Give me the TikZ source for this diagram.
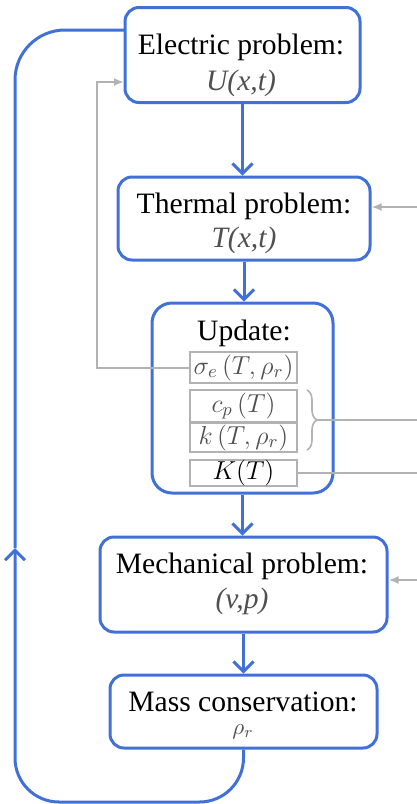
\documentclass[tikz,border=0pt]{standalone}
\usepackage{fix-cm}
\usepackage{fontspec}
\setmainfont{Liberation Serif}
\usetikzlibrary{arrows.meta,decorations.pathreplacing}
\definecolor{flowblue}{RGB}{64,112,216}
\definecolor{linkgray}{RGB}{178,178,178}
\definecolor{valgray}{RGB}{80,80,80}
\newcommand{\hd}{\fontsize{14.8}{18}\selectfont}

\begin{document}
\begin{tikzpicture}[x=0.5pt, y=-0.5pt,
  stage/.style={draw=flowblue, line width=1.5pt, rounded corners=7pt, inner sep=0pt},
  title/.style={font=\hd, inner sep=0pt, anchor=base},
  value/.style={font=\hd\itshape, text=valgray, inner sep=0pt, anchor=base},
  prop/.style={draw=linkgray, line width=1pt, minimum width=53.5pt, inner sep=0pt, font=\fontsize{13}{15}\selectfont, text=valgray},
  flow/.style={draw=flowblue, line width=1.5pt, -{Straight Barb[length=5pt,width=10pt]}},
  link/.style={draw=linkgray, line width=1pt, -{Latex[length=5pt,width=4pt]}}]
  \useasboundingbox (0,0) rectangle (417,804);
  % boxes
  \node[stage, minimum width=117.5pt, minimum height=47.5pt] (elec) at (242.5,55) {};
  \node[title] (elect) at (241,54) {Electric problem:};
  \node[value] (elecv) at (241,90) {U(x,t)};
  \node[stage, minimum width=126pt, minimum height=41.5pt] (therm) at (244,218.5) {};
  \node[title] (thermt) at (244,213) {Thermal problem:};
  \node[value] (thermv) at (244,247) {T(x,t)};
  \node[stage, rounded corners=10pt, minimum width=90.5pt, minimum height=95pt] (upd) at (242.5,398) {};
  \node[title] (updt) at (244,340) {Update:};
  \node[prop, minimum height=15.5pt] (sig) at (243.5,367.5) {$\sigma_e\,(T,\rho_r)$};
  \node[prop, minimum height=16pt] (cp) at (243.5,406) {$c_p\,(T)$};
  \node[prop, minimum height=14.5pt] (kk) at (243.5,437.5) {$k\,(T,\rho_r)$};
  \node[prop, minimum height=12.5pt, text=black] (KT) at (243.5,472.5) {$K(T)$};
  \node[stage, minimum width=143.5pt, minimum height=47.5pt] (mech) at (243.5,584.5) {};
  \node[title] (mecht) at (242,573) {Mechanical problem:};
  \node[value] (mechv) at (242,608) {(v,p)};
  \node[stage, minimum width=133.5pt, minimum height=36.5pt] (mass) at (243.5,711.5) {};
  \node[title] (masst) at (243,711) {Mass conservation:};
  \node[value, font=\fontsize{11.5}{13}\selectfont] (massv) at (243,734) {$\rho_r$};
  % main chain
  \draw[flow] (elec.south) -- (elec.south |- therm.north);
  \draw[flow] (therm.south) -- (therm.south |- upd.north);
  \draw[flow] (upd.south) -- (upd.south |- mech.north);
  \draw[flow] (mech.south) -- (mech.south |- mass.north);
  % loop back
  \coordinate (back) at (15,548);
  \coordinate (elecin) at (125,30);
  \draw[flow, rounded corners=22pt] (mass.south) -- (mass.south |- 0,802) -- (15,802) -- (back);
  \draw[flowblue, line width=1.5pt, rounded corners=25pt] (back) -- (15,30) -- (elecin);
  % gray links
  \coordinate (elecfb) at (124,82);
  \draw[link] (sig.west) -| (97,82) -- (elecfb);
  \coordinate (thermin) at (417,207);
  \draw[link] (thermin) -- (thermin -| therm.east);
  \coordinate (mechin) at (417,580);
  \draw[link] (mechin) -- (mechin -| mech.east);
  \draw[linkgray, line width=0.8pt, decorate, decoration={brace, amplitude=5pt}] (307,390) -- (307,450);
  \coordinate (brtip) at (317,420);
  \coordinate (brout) at (417,420);
  \draw[linkgray, line width=1pt] (brtip) -- (brout);
  \coordinate (KTout) at (417,472.5);
  \draw[linkgray, line width=1pt] (KT.east) -- (KTout);
\end{tikzpicture}
\end{document}
